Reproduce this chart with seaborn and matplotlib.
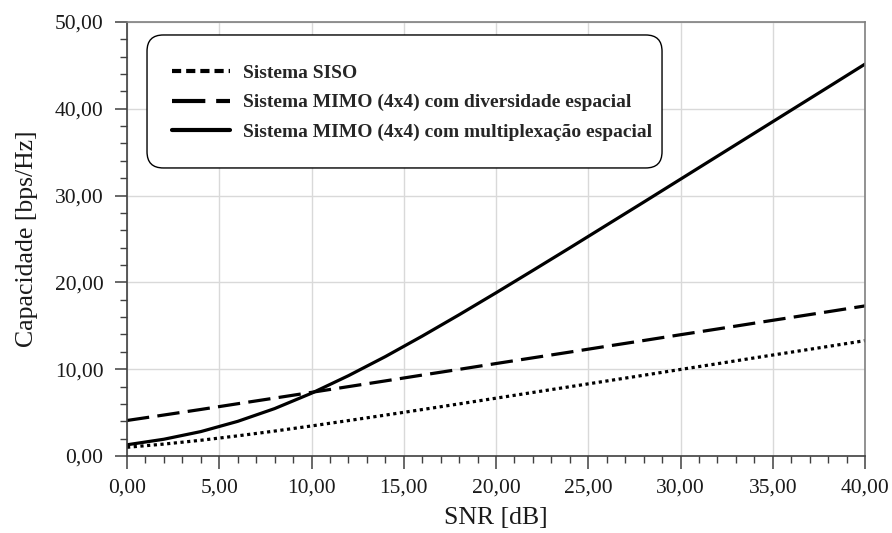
import numpy as np
import pandas as pd
import matplotlib
matplotlib.use("Agg")
import matplotlib.pyplot as plt
from matplotlib.lines import Line2D
from matplotlib.patches import FancyBboxPatch
from matplotlib.ticker import MultipleLocator, FuncFormatter
import seaborn as sns

# --- Data ---
SNR_DB = [0, 2, 4, 6, 8, 10, 12, 14, 16, 18, 20, 22, 24, 26, 28, 30, 32, 34, 36, 38, 40]
SISO = [1.00, 1.37, 1.81, 2.32, 2.87, 3.46, 4.08, 4.71, 5.35, 6.00, 6.66,
        7.32, 7.98, 8.64, 9.30, 9.97, 10.63, 11.30, 11.96, 12.62, 13.29]
MIMO_DIV = [4.09, 4.72, 5.36, 6.02, 6.67, 7.33, 7.99, 8.65, 9.32, 9.98, 10.65,
            11.31, 11.97, 12.64, 13.30, 13.97, 14.63, 15.30, 15.96, 16.62, 17.29]
MIMO_MUX = [1.29, 1.93, 2.81, 3.99, 5.46, 7.23, 9.25, 11.45, 13.81, 16.27, 18.80,
            21.38, 23.98, 26.61, 29.24, 31.89, 34.54, 37.19, 39.84, 42.49, 45.15]

LABELS = ["Sistema SISO",
          "Sistema MIMO (4x4) com diversidade espacial",
          "Sistema MIMO (4x4) com multiplexação espacial"]

df = pd.concat([
    pd.DataFrame({"snr": SNR_DB, "cap": SISO, "sistema": LABELS[0]}),
    pd.DataFrame({"snr": SNR_DB, "cap": MIMO_DIV, "sistema": LABELS[1]}),
    pd.DataFrame({"snr": SNR_DB, "cap": MIMO_MUX, "sistema": LABELS[2]}),
])

sns.set_theme(style="whitegrid")
plt.rcParams["font.family"] = ["Liberation Serif", "DejaVu Serif"]
plt.rcParams["lines.dash_capstyle"] = "butt"

fig = plt.figure(figsize=(8.92, 5.33), dpi=100)
ax = fig.add_axes([0.1424, 0.1445, 0.8274, 0.8143])

dash_map = {LABELS[0]: (1, 1.1), LABELS[1]: (7, 2.6), LABELS[2]: ""}
sns.lineplot(data=df, x="snr", y="cap", hue="sistema", style="sistema",
             palette=["black"] * 3, dashes=dash_map, linewidth=2.3,
             legend=False, ax=ax)

ax.set_xlim(0, 40)
ax.set_ylim(0, 50)
ax.xaxis.set_major_locator(MultipleLocator(5))
ax.xaxis.set_minor_locator(MultipleLocator(1))
ax.yaxis.set_major_locator(MultipleLocator(10))
ax.yaxis.set_minor_locator(MultipleLocator(2))
fmt = FuncFormatter(lambda v, p: f"{v:.2f}".replace(".", ","))
ax.xaxis.set_major_formatter(fmt)
ax.yaxis.set_major_formatter(fmt)

ax.grid(True, which="major", color="#d9d9d9", linewidth=1.0)
ax.grid(False, which="minor")
for s in ax.spines.values():
    s.set_color("#7f7f7f")
    s.set_linewidth(1.2)
ax.spines["left"].set_color("#404040")
ax.spines["bottom"].set_color("#404040")

ax.tick_params(which="major", direction="out", length=9, width=1.1,
               color="#404040", labelsize=15.5,
               bottom=True, left=True, labelcolor="#1a1a1a")
ax.tick_params(axis="x", which="major", pad=7)
ax.tick_params(axis="y", which="major", pad=8)
ax.tick_params(which="minor", direction="out", length=5, width=1.0,
               color="#404040", bottom=True, left=True)

ax.set_xlabel("SNR [dB]", fontsize=18.5, color="#1a1a1a", labelpad=7)
ax.set_ylabel("Capacidade [bps/Hz]", fontsize=18.5, color="#1a1a1a", labelpad=12)

# rounded legend box
box = FancyBboxPatch((0.0271, 0.6636), 0.6978, 0.3064,
                     boxstyle="round,pad=0,rounding_size=0.022",
                     mutation_aspect=738 / 434,
                     transform=ax.transAxes, facecolor="white",
                     edgecolor="black", linewidth=1.0, zorder=4)
ax.add_patch(box)

handles = [
    Line2D([], [], color="black", linewidth=3, dashes=(2.2, 1.2)),
    Line2D([], [], color="black", linewidth=3, dashes=(8, 2.6)),
    Line2D([], [], color="black", linewidth=3),
]
leg = ax.legend(handles, LABELS, loc="upper left", bbox_to_anchor=(0.061, 0.903),
                prop={"family": ["Liberation Serif"], "weight": "bold", "size": 14},
                frameon=False, handlelength=3.0, handletextpad=0.65,
                labelspacing=0.62, borderpad=0, borderaxespad=0)
leg.set_zorder(5)

fig.savefig("out.png", dpi=100)
